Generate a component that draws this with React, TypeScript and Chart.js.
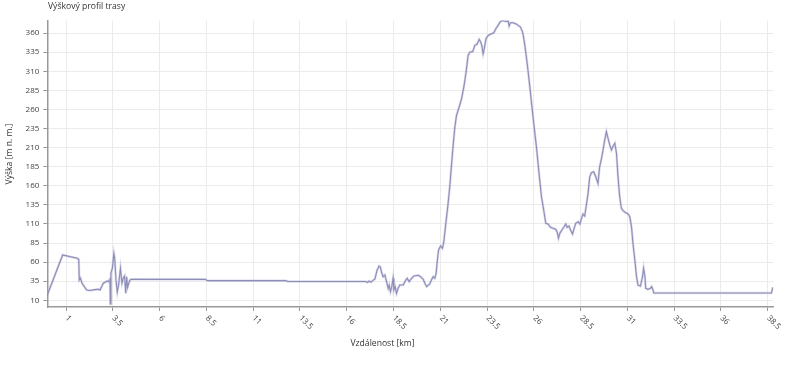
import React, { useEffect, useRef } from "react";
import { Chart, registerables } from "chart.js";

Chart.register(...registerables);

const chartTitle = "Výškový profil trasy";
const xAxisTitle = "Vzdálenost [km]";
const yAxisTitle = "Výška [m n. m.]";

const distanceKm = [
  0, 0.82, 1.6, 1.68, 1.71, 1.77, 1.85, 1.92, 2.1, 2.28, 2.55, 2.72, 2.82, 2.99, 3.14, 3.24, 3.3, 3.35, 3.37, 3.4,
  3.48, 3.56, 3.6, 3.67, 3.74, 3.81, 3.91, 3.99, 4.06, 4.13, 4.19, 4.24, 4.29, 4.36, 4.42, 4.5, 8.45, 8.55, 12.75, 12.85,
  17.0, 17.1, 17.2, 17.3, 17.41, 17.51, 17.63, 17.73, 17.8, 17.86, 17.95, 18.04, 18.13, 18.22, 18.27, 18.34, 18.41, 18.48, 18.52, 18.59,
  18.66, 18.75, 18.84, 19.02, 19.16, 19.23, 19.34, 19.47, 19.59, 19.82, 19.95, 20.09, 20.18, 20.27, 20.44, 20.53, 20.62, 20.71, 20.78, 20.83,
  20.91, 21.02, 21.12, 21.19, 21.3, 21.42, 21.51, 21.6, 21.69, 21.78, 21.87, 22.01, 22.14, 22.26, 22.37, 22.49, 22.58, 22.74, 22.85, 22.97,
  23.08, 23.15, 23.22, 23.29, 23.37, 23.44, 23.56, 23.74, 23.86, 23.97, 24.09, 24.22, 24.36, 24.5, 24.63, 24.68, 24.75, 24.89, 25.04, 25.16,
  25.29, 25.4, 25.47, 25.57, 25.68, 25.79, 25.93, 26.05, 26.14, 26.28, 26.41, 26.53, 26.64, 26.76, 26.89, 27.03, 27.17, 27.24, 27.32, 27.39,
  27.5, 27.6, 27.71, 27.78, 27.88, 27.96, 28.07, 28.14, 28.24, 28.37, 28.46, 28.55, 28.63, 28.72, 28.81, 28.9, 28.99, 29.08, 29.2, 29.31,
  29.43, 29.52, 29.61, 29.7, 29.79, 29.88, 29.97, 30.06, 30.15, 30.24, 30.33, 30.42, 30.5, 30.59, 30.68, 30.77, 30.91, 31.04, 31.13, 31.22,
  31.3, 31.4, 31.49, 31.57, 31.7, 31.81, 31.87, 31.94, 31.98, 32.1, 32.23, 32.3, 32.37, 32.41, 38.7, 38.78,
];

const elevationM = [
  17, 69.3, 65, 63.7, 36.6, 39, 32.6, 30, 23.5, 22.8, 24, 24.4, 23.5, 32.3, 34.4, 35.7, 34, 39.2, 5.2, 45.3,
  52.3, 71.3, 65.4, 36.6, 20.9, 30, 51.9, 32.3, 38.8, 41.8, 19.2, 40.9, 27, 32.6, 36.6, 37.5, 37.4, 35.8, 35.8, 34.6,
  34.6, 33.5, 35, 33.8, 36, 38, 49.7, 54.9, 53.6, 47, 40.9, 43.1, 34.4, 25.7, 30, 21.3, 27.8, 38.8, 23.5, 27.8,
  19.2, 25.7, 30, 30, 36.6, 38.8, 34.4, 38.8, 41.8, 42.7, 40.9, 37.5, 32.3, 27.8, 31.3, 36.6, 40.9, 38.8, 45.3, 58.4,
  75.9, 81.1, 78.1, 86.7, 110.8, 137, 158.7, 186.8, 213, 236.9, 252.2, 263.1, 274, 289.3, 306.7, 330.8, 335.1, 336, 343.9, 345.6,
  351.8, 349.1, 343.9, 332.9, 341.7, 352.5, 357, 359.1, 360.4, 365.6, 370.1, 375.3, 376.6, 375.3, 375.7, 369.2, 373.5, 373.5, 372.2, 370.1,
  367.9, 361.3, 352.5, 335.1, 313.3, 289.3, 256.6, 230.4, 211.1, 176.3, 145.7, 128.2, 110.8, 109.9, 105.6, 104.3, 103, 99.8, 91.2, 97.7,
  102, 105.6, 109.9, 105.6, 107.3, 102, 96.8, 103, 110.8, 112.9, 109.9, 117.4, 123, 120.4, 134.8, 150.1, 171.8, 177.1, 178.4, 171.8,
  163.2, 184.9, 194.6, 206.8, 219.9, 230.8, 222.1, 213.4, 206.8, 212, 215.6, 202.5, 171.8, 145.7, 130.5, 127.3, 124.7, 123, 119.5, 106.4,
  84.6, 62.8, 40.9, 30, 28.7, 40.9, 51.9, 40.9, 25.7, 24.4, 25.7, 27.8, 23.5, 19.6, 19.6, 27,
];

const xTickValues = [1, 3.5, 6, 8.5, 11, 13.5, 16, 18.5, 21, 23.5, 26, 28.5, 31, 33.5, 36, 38.5];
const yTickValues = [10, 35, 60, 85, 110, 135, 160, 185, 210, 235, 260, 285, 310, 335, 360];

const FONT = "'Open Sans', 'Noto Sans', sans-serif";

export default function App() {
  const canvasRef = useRef<HTMLCanvasElement | null>(null);

  useEffect(() => {
    const canvas = canvasRef.current;
    if (!canvas) return;
    const points = distanceKm.map((x, i) => ({ x, y: elevationM[i] }));

    const textPlugin = {
      id: "customText",
      afterDraw(chart: any) {
        const ctx = chart.ctx;
        const xs = chart.scales.x;
        const area = chart.chartArea;
        ctx.save();
        ctx.fillStyle = "#333";
        ctx.font = `8.6px ${FONT}`;
        ctx.textAlign = "left";
        ctx.textBaseline = "middle";
        ctx.fillText(chartTitle, 48, 7);
        ctx.textAlign = "center";
        ctx.fillText(xAxisTitle, 382.5, 344);
        ctx.save();
        ctx.translate(10, 154);
        ctx.rotate(-Math.PI / 2);
        ctx.fillText(yAxisTitle, 0, 0);
        ctx.restore();
        ctx.font = `8px ${FONT}`;
        ctx.fillStyle = "#444";
        ctx.textAlign = "left";
        ctx.textBaseline = "middle";
        for (const v of xTickValues) {
          const px = xs.getPixelForValue(v);
          ctx.save();
          ctx.translate(px + 0.5, area.bottom + 10);
          ctx.rotate(Math.PI / 4);
          ctx.fillText(String(v), 0, 0);
          ctx.restore();
        }
        ctx.restore();
      },
    };

    const chart = new Chart(canvas, {
      type: "line",
      data: {
        datasets: [
          {
            data: points,
            borderColor: "rgba(185,185,220,0.55)",
            borderWidth: 2.4,
            pointRadius: 0,
            tension: 0,
            fill: false,
          },
          {
            data: points,
            borderColor: "#58588a",
            borderWidth: 1.1,
            pointRadius: 0,
            tension: 0,
            fill: false,
          },
        ],
      },
      options: {
        responsive: false,
        animation: false,
        parsing: false,
        normalized: true,
        layout: { padding: { left: 0, top: 20.5, right: 26.7, bottom: 0 } },
        plugins: {
          legend: { display: false },
          title: { display: false },
          tooltip: { enabled: false },
        },
        scales: {
          x: {
            type: "linear",
            min: 0,
            max: 38.8,
            afterBuildTicks: (scale: any) => {
              scale.ticks = xTickValues.map((value) => ({ value }));
            },
            afterFit: (scale: any) => {
              scale.height = 60;
            },
            ticks: { display: false },
            grid: {
              color: "#ebebeb",
              tickColor: "#999",
              tickLength: 4,
              lineWidth: 1,
            },
            border: { color: "#999", width: 1.5 },
          },
          y: {
            type: "linear",
            min: 1.2,
            max: 376.5,
            afterBuildTicks: (scale: any) => {
              scale.ticks = yTickValues.map((value) => ({ value }));
            },
            afterFit: (scale: any) => {
              scale.width = 47.3;
            },
            ticks: {
              color: "#444",
              font: { size: 8, family: FONT },
              padding: 4,
              callback: (v: any) => String(v),
            },
            grid: {
              color: "#ebebeb",
              tickColor: "#999",
              tickLength: 4,
              lineWidth: 1,
            },
            border: { color: "#999", width: 1.5 },
          },
        },
      },
      plugins: [textPlugin],
    });

    return () => {
      chart.destroy();
    };
  }, []);

  return (
    <div style={{ position: "fixed", left: 0, top: 0, width: 800, height: 367, background: "#fff" }}>
      <canvas ref={canvasRef} width={800} height={367} style={{ width: 800, height: 367, display: "block" }} />
    </div>
  );
}
